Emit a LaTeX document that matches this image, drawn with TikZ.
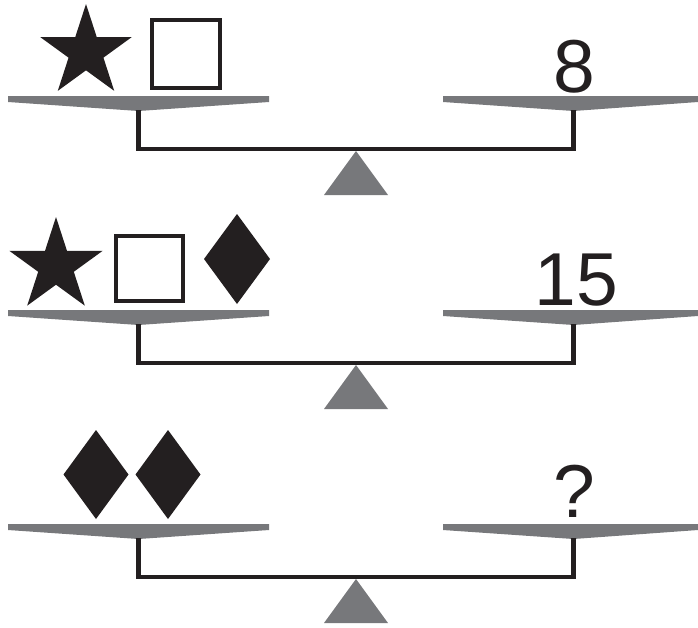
\documentclass[tikz,border=0pt]{standalone}
\usepackage{fontspec}
\setmainfont{Liberation Sans}
\definecolor{ink}{HTML}{231F20}
\definecolor{pangray}{HTML}{77787B}
\tikzset{
  pan/.style={fill=pangray, draw=none},
  beam/.style={draw=ink, line width=4.5pt, line join=miter},
  fulcrum/.style={fill=pangray, draw=none},
  solid shape/.style={fill=ink, draw=none},
  open square/.style={draw=ink, line width=4pt, fill=white},
  weight/.style={anchor=base, inner sep=0pt, text=ink, font=\fontsize{75}{75}\selectfont}
}
\newcommand\balance[1]{%
  \begin{scope}[yshift=-#1pt]
    \fill[pan] (8,96) -- (269,96) -- (269,102) -- (138.5,111) -- (8,102) -- cycle;
    \fill[pan] (443,96) -- (698,96) -- (698,102) -- (573.5,111) -- (443,102) -- cycle;
    \draw[beam] (138.5,110) -- (138.5,149) -- (573.5,149) -- (573.5,110);
    \fill[fulcrum] (356,151) -- (388,195) -- (324,195) -- cycle;
  \end{scope}}
\newcommand\mystar[3]{%
  \fill[solid shape] ({#1},{#2-#3})
    \foreach \i in {1,...,9}{
      -- ({#1+cos(90+36*\i)*#3*(1-0.618*mod(\i,2))},{#2-sin(90+36*\i)*#3*(1-0.618*mod(\i,2))})
    } -- cycle;}
\newcommand\mydiamond[4]{% cx, cy, w, h
  \fill[solid shape] ({#1},{#2-#4/2}) -- ({#1+#3/2},{#2}) -- ({#1},{#2+#4/2}) -- ({#1-#3/2},{#2}) -- cycle;}
\begin{document}
\begin{tikzpicture}[x=1pt,y=-1pt]
  \useasboundingbox (0,0) rectangle (698,627);
  % three balances
  \balance{0}
  \balance{214}
  \balance{428}
  % panel 1
  \mystar{86}{52}{48}
  \draw[open square] (152,20) rectangle (220,88);
  \node[weight] (w1) at (574.5,92) {8};
  % panel 2
  \mystar{56}{266}{49}
  \draw[open square] (116,236) rectangle (183,301);
  \mydiamond{237}{259}{66}{90}
  \node[weight] (w2) at (576.5,305) {15};
  % panel 3
  \mydiamond{96}{474.5}{65}{89}
  \mydiamond{168}{474.5}{65}{89}
  \node[weight] (w3) at (574.5,517) {?};
\end{tikzpicture}
\end{document}
